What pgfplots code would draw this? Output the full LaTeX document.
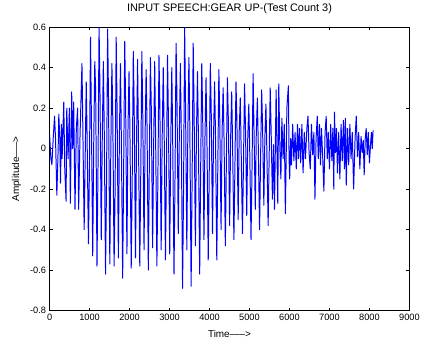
\documentclass[border=0pt]{standalone}
\usepackage{pgfplots}
\pgfplotsset{compat=1.18}
\usepackage{fontspec}
\setmainfont{Liberation Sans}
\begin{document}
\begin{tikzpicture}
\begin{axis}[
  at={(0,0)}, anchor=south west,
  scale only axis, width=363pt, height=286pt,
  xmin=0, xmax=9000, ymin=-0.8, ymax=0.6,
  xtick={0,1000,...,9000}, ytick={-0.8,-0.6,...,0.6},
  tick align=inside, major tick length=3pt,
  axis line style={line width=0.8pt},
  tick style={black, line width=0.5pt},
  /pgf/number format/assume math mode=true,
  xticklabel style={font=\fontsize{9.3}{11}\selectfont, /pgf/number format/.cd, fixed, 1000 sep={}},
  yticklabel style={font=\fontsize{9.3}{11}\selectfont, /pgf/number format/.cd, fixed, fixed zerofill, precision=1},
  yticklabel={\ifdim\tick pt=0pt 0\else\pgfmathprintnumber[fixed,fixed zerofill,precision=1]{\tick}\fi},
  scaled x ticks=false, scaled y ticks=false,
  title={INPUT SPEECH:GEAR UP-(Test Count 3)},
  title style={font=\fontsize{11}{13}\selectfont, at={(axis description cs:0.5,1.045)}, anchor=center},
  xlabel={Time----->},
  xlabel style={font=\fontsize{10}{12}\selectfont, at={(axis description cs:0.5,-0.081)}, anchor=center},
  ylabel={Amplitude----->},
  ylabel style={font=\fontsize{10}{12}\selectfont, at={(axis description cs:-0.092,0.5)}, anchor=center, rotate=0},
]
\addplot[color={rgb,1:red,0;green,0;blue,1}, line width=1pt, line join=round] table {
x y
0 0.07
33 -0.05
58 -0.08
91 0.05
124 0.16
149 0.05
182 -0.23
215 0.00
231 0.17
256 0.05
273 -0.17
297 0.12
314 -0.05
355 0.23
380 -0.10
413 -0.26
430 0.20
463 -0.05
496 0.20
520 -0.27
553 0.28
578 0.00
603 0.23
636 -0.30
669 0.10
702 0.20
727 -0.30
760 0.05
810 0.42
832 0.10
865 -0.40
890 -0.05
917 0.33
939 0.05
972 -0.47
997 -0.10
1024 0.55
1046 0.15
1079 -0.53
1104 0.02
1131 0.43
1153 0.28
1186 -0.58
1211 -0.10
1238 0.60
1260 0.30
1293 -0.45
1318 0.05
1345 0.43
1367 0.10
1400 -0.62
1425 -0.15
1452 0.59
1474 0.25
1507 -0.57
1532 0.00
1559 0.42
1581 0.15
1614 -0.58
1639 -0.20
1666 0.55
1688 0.20
1721 -0.54
1746 0.05
1773 0.42
1795 0.05
1828 -0.64
1853 -0.10
1880 0.53
1902 0.22
1935 -0.52
1960 0.08
1987 0.38
2009 0.10
2042 -0.59
2067 -0.15
2094 0.48
2116 0.20
2149 -0.54
2174 0.02
2201 0.44
2223 0.05
2256 -0.58
2281 -0.12
2308 0.48
2330 0.18
2363 -0.50
2388 0.05
2415 0.39
2437 0.12
2470 -0.60
2495 -0.08
2522 0.45
2544 0.20
2577 -0.49
2602 0.00
2629 0.43
2651 0.08
2684 -0.58
2709 -0.15
2736 0.46
2758 0.22
2791 -0.50
2816 0.05
2843 0.40
2865 0.10
2898 -0.55
2923 -0.10
2950 0.46
2972 0.15
3005 -0.52
3030 0.02
3057 0.40
3079 0.05
3112 -0.62
3137 -0.15
3164 0.52
3186 0.25
3219 -0.42
3244 0.05
3271 0.42
3293 0.10
3326 -0.69
3351 -0.20
3378 0.60
3400 0.22
3433 -0.50
3458 0.08
3485 0.45
3507 0.12
3540 -0.68
3565 -0.15
3592 0.52
3614 0.20
3647 -0.48
3672 0.05
3699 0.38
3721 0.08
3754 -0.62
3779 -0.10
3806 0.42
3828 0.18
3861 -0.45
3886 0.05
3913 0.35
3935 0.05
3968 -0.55
3993 -0.12
4020 0.42
4042 0.20
4075 -0.42
4100 0.05
4127 0.33
4149 0.08
4182 -0.55
4207 -0.10
4234 0.39
4256 0.15
4289 -0.40
4314 0.08
4341 0.30
4363 0.05
4396 -0.48
4421 -0.08
4448 0.35
4470 0.15
4503 -0.38
4528 0.05
4555 0.28
4577 0.02
4610 -0.45
4635 -0.10
4662 0.33
4684 0.15
4717 -0.35
4742 0.08
4769 0.25
4791 0.00
4824 -0.42
4849 -0.08
4876 0.32
4898 0.12
4931 -0.33
4956 0.05
4983 0.22
5005 0.00
5038 -0.45
5063 -0.10
5090 0.37
5112 0.10
5145 -0.30
5170 0.08
5197 0.25
5219 0.02
5252 -0.40
5277 -0.05
5304 0.29
5326 0.12
5359 -0.28
5384 0.05
5411 0.22
5433 0.00
5466 -0.38
5491 -0.05
5518 0.30
5545 0.05
5573 -0.25
5600 0.02
5625 -0.30
5666 0.29
5690 -0.05
5707 -0.27
5732 0.32
5760 0.00
5785 -0.15
5810 0.15
5840 -0.05
5870 0.12
5897 -0.32
5935 0.20
5972 0.31
5990 -0.05
6005 -0.15
6030 0.05
6050 -0.08
6080 0.12
6110 -0.06
6140 0.08
6170 -0.10
6200 0.12
6225 -0.05
6250 0.10
6280 -0.07
6310 0.12
6340 -0.12
6370 0.08
6400 -0.05
6435 0.10
6463 0.16
6490 -0.02
6520 -0.10
6550 0.12
6580 -0.03
6610 0.08
6637 -0.25
6665 0.05
6695 0.16
6720 -0.05
6750 0.12
6775 -0.08
6800 0.10
6830 -0.04
6860 -0.21
6890 0.08
6918 0.16
6945 -0.05
6970 0.08
7000 -0.10
7030 0.12
7060 -0.06
7085 0.10
7108 -0.20
7125 0.18
7150 -0.02
7175 0.10
7200 -0.12
7230 0.08
7260 -0.15
7290 0.12
7320 -0.06
7350 0.14
7375 -0.10
7398 0.15
7420 -0.18
7450 0.10
7480 -0.08
7510 0.12
7540 -0.05
7570 0.08
7604 -0.20
7640 0.05
7670 0.16
7700 -0.04
7730 0.08
7760 -0.10
7790 0.06
7820 -0.02
7845 0.04
7868 -0.13
7895 0.05
7918 0.10
7945 -0.03
7970 0.08
8000 -0.07
8030 0.03
8050 0.08
8070 0.00
8090 0.09
};
\end{axis}
\path (-50pt,-28pt) rectangle (373pt,312pt);
\end{tikzpicture}
\end{document}
